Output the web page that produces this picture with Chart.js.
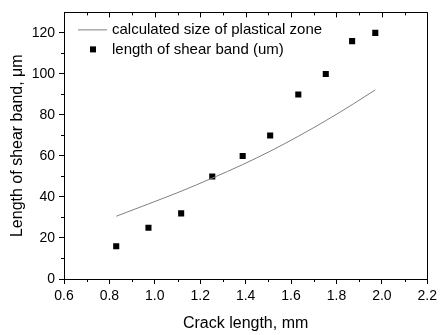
<!DOCTYPE html>
<html>
<head>
<meta charset="utf-8">
<script src="https://cdn.jsdelivr.net/npm/chart.js@4.4.0/dist/chart.umd.min.js"></script>
<style>
html,body{margin:0;padding:0;background:#fff;}
#wrap{width:441px;height:335px;}
</style>
</head>
<body>
<div id="wrap"><canvas id="c" width="441" height="335"></canvas></div>
<script>
const crackLength = [0.83, 0.972, 1.116, 1.253, 1.387, 1.508, 1.632, 1.753, 1.869, 1.971];
const shearBand = [16, 25, 32, 50, 60, 70, 90, 100, 116, 120];
const plasticZone = [30.6, 36.6, 42.8, 49.2, 55.8, 62.3, 69.6, 77.2, 85.0, 92.2];
const xTicks = [0.6, 0.8, 1.0, 1.2, 1.4, 1.6, 1.8, 2.0, 2.2];
const yTicks = [0, 20, 40, 60, 80, 100, 120];
const xMinor = [0.7, 0.9, 1.1, 1.3, 1.5, 1.7, 1.9, 2.1];
const yMinor = [10, 30, 50, 70, 90, 110];

const FONT = "'Liberation Sans', Arial, sans-serif";

const framePlugin = {
  id: 'frame',
  afterDraw(chart) {
    const ctx = chart.ctx, a = chart.chartArea;
    const xs = chart.scales.x, ys = chart.scales.y;
    ctx.save();
    ctx.strokeStyle = '#000';
    ctx.lineWidth = 1;
    ctx.beginPath();
    ctx.rect(Math.round(a.left) + 0.5, Math.round(a.top) + 0.5, Math.round(a.right - a.left), Math.round(a.bottom - a.top));
    ctx.stroke();
    ctx.beginPath();
    xMinor.forEach(v => {
      const px = Math.round(xs.getPixelForValue(v)) + 0.5;
      ctx.moveTo(px, a.bottom); ctx.lineTo(px, a.bottom + 3);
      ctx.moveTo(px, a.top); ctx.lineTo(px, a.top + 3);
    });
    xTicks.forEach(v => {
      const px = Math.round(xs.getPixelForValue(v)) + 0.5;
      ctx.moveTo(px, a.top); ctx.lineTo(px, a.top + 5);
    });
    yMinor.forEach(v => {
      const py = Math.round(ys.getPixelForValue(v)) + 0.5;
      ctx.moveTo(a.left, py); ctx.lineTo(a.left - 3, py);
    });
    ctx.stroke();

    const ds = chart.data.datasets;
    ctx.font = "15px " + FONT;
    ctx.fillStyle = '#000';
    ctx.textBaseline = 'middle';
    ctx.textAlign = 'left';
    const lx = a.left + 14, ly = a.top + 17;
    ctx.beginPath();
    ctx.strokeStyle = ds[0].borderColor;
    ctx.lineWidth = 1;
    ctx.moveTo(lx, ly + 0.5); ctx.lineTo(lx + 29, ly + 0.5);
    ctx.stroke();
    ctx.fillText(ds[0].label, lx + 34, ly);
    ctx.fillStyle = '#000';
    ctx.fillRect(lx + 12, ly + 17, 6, 6);
    ctx.fillText(ds[1].label, lx + 34, ly + 20);
    ctx.restore();
  }
};

new Chart(document.getElementById('c'), {
  type: 'scatter',
  data: {
    datasets: [
      {
        label: 'calculated size of plastical zone',
        data: crackLength.map((x, i) => ({x, y: plasticZone[i]})),
        showLine: true,
        borderColor: '#808080',
        borderWidth: 1,
        pointRadius: 0,
        cubicInterpolationMode: 'monotone',
        fill: false
      },
      {
        label: 'length of shear band (um)',
        data: crackLength.map((x, i) => ({x, y: shearBand[i]})),
        showLine: false,
        pointStyle: 'rect',
        pointRadius: 4.3,
        pointHoverRadius: 4.3,
        backgroundColor: '#000',
        borderWidth: 0
      }
    ]
  },
  options: {
    responsive: false,
    animation: false,
    events: [],
    layout: { padding: { top: 6, right: 10, left: 0, bottom: 2 } },
    plugins: { legend: { display: false }, tooltip: { enabled: false } },
    scales: {
      x: {
        type: 'linear',
        min: 0.6, max: 2.2,
        afterBuildTicks(s) { s.ticks = xTicks.map(v => ({value: v})); },
        afterFit(s) { s.height = 54; },
        grid: { drawOnChartArea: false, drawTicks: true, tickLength: 5, color: '#000', tickColor: '#000' },
        border: { display: true, color: '#000', width: 1 },
        ticks: {
          padding: 4, color: '#000',
          font: { family: FONT, size: 14 },
          callback: v => v.toFixed(1),
          maxRotation: 0
        },
        title: {
          display: true, text: 'Crack length, mm', color: '#000',
          font: { family: FONT, size: 16 }, padding: { top: 0, bottom: 0 }
        }
      },
      y: {
        type: 'linear',
        min: 0, max: 130,
        afterBuildTicks(s) { s.ticks = yTicks.map(v => ({value: v})); },
        afterFit(s) { s.width = 64; },
        grid: { drawOnChartArea: false, drawTicks: true, tickLength: 5, color: '#000', tickColor: '#000' },
        border: { display: true, color: '#000', width: 1 },
        ticks: {
          padding: 4, color: '#000',
          font: { family: FONT, size: 14 },
          callback: v => String(v)
        },
        title: {
          display: true, text: 'Length of shear band, \u03bcm', color: '#000',
          font: { family: FONT, size: 16 }, padding: { top: 8, bottom: 0 }
        }
      }
    }
  },
  plugins: [framePlugin]
});
</script>
</body>
</html>
